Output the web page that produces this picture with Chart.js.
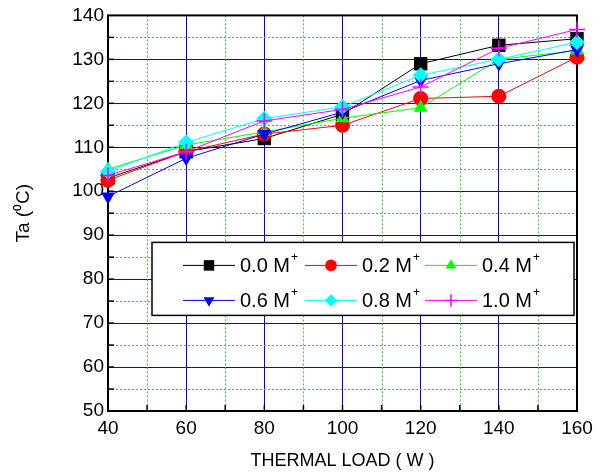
<!DOCTYPE html>
<html>
<head>
<meta charset="utf-8">
<script src="https://cdn.jsdelivr.net/npm/chart.js@4"></script>
<style>
  html, body { margin: 0; padding: 0; background: #fff; }
  #wrap { width: 605px; height: 476px; }
</style>
</head>
<body>
<div id="wrap"><canvas id="chart" width="605" height="476"></canvas></div>
<script>
const loads = [40, 60, 80, 100, 120, 140, 160];
const s00 = [103, 109, 112, 117.5, 129, 133.2, 134.7];
const s02 = [102.5, 109, 113, 115, 121.1, 121.6, 130.5];
const s04 = [105, 110.5, 113.5, 116.6, 119, 130, 132];
const s06 = [98.8, 107.5, 113, 118, 125.2, 129, 132.2];
const s08 = [104.5, 111.1, 116.5, 119.2, 126.4, 130, 133.9];
const s10 = [103.6, 109, 116, 118.6, 123.7, 132.5, 136.8];

const seriesNames = ['0.0 M', '0.2 M', '0.4 M', '0.6 M', '0.8 M', '1.0 M'];
const xMinorTicks = [50, 70, 90, 110, 130, 150];
const yMinorTicks = [55, 65, 75, 85, 95, 105, 115, 125, 135];
const xAllTicks = [50, 60, 70, 80, 90, 100, 110, 120, 130, 140, 150];
const yAllTicks = [55, 60, 65, 70, 75, 80, 85, 90, 95, 100, 105, 110, 115, 120, 125, 130, 135];

const FONT = '"Liberation Sans", Arial, sans-serif';

const styles = [
  { color: '#000000', point: 'rect', radius: 9.5, rotation: 0 },
  { color: '#ff0000', point: 'circle', radius: 7.5, rotation: 0 },
  { color: '#00ff00', point: 'triangle', radius: 8, rotation: 0 },
  { color: '#0000ff', point: 'triangle', radius: 8, rotation: 180 },
  { color: '#00ffff', point: 'rectRot', radius: 8, rotation: 0 },
  { color: '#ff00ff', point: 'cross', radius: 8, rotation: 0 }
];

const allSeries = [s00, s02, s04, s06, s08, s10];

const datasets = allSeries.map((vals, i) => ({
  label: seriesNames[i],
  data: loads.map((x, j) => ({ x: x, y: vals[j] })),
  borderColor: styles[i].color,
  backgroundColor: styles[i].color,
  borderWidth: 1,
  pointStyle: styles[i].point,
  pointRadius: styles[i].radius,
  pointRotation: styles[i].rotation,
  pointBorderWidth: styles[i].point === 'cross' ? 1.5 : 0,
  pointBorderColor: styles[i].color,
  tension: 0,
  clip: false,
  order: allSeries.length - i
}));

const extrasPlugin = {
  id: 'extras',
  beforeDatasetsDraw(chart) {
    const { ctx, chartArea: a, scales: { x, y } } = chart;
    ctx.save();
    ctx.strokeStyle = '#22dd22';
    ctx.lineWidth = 1;
    ctx.setLineDash([2, 2]);
    xMinorTicks.forEach(v => {
      const px = Math.round(x.getPixelForValue(v)) + 0.5;
      ctx.beginPath(); ctx.moveTo(px, a.top); ctx.lineTo(px, a.bottom); ctx.stroke();
    });
    yMinorTicks.forEach(v => {
      const py = Math.round(y.getPixelForValue(v)) + 0.5;
      ctx.beginPath(); ctx.moveTo(a.left, py); ctx.lineTo(a.right, py); ctx.stroke();
    });
    ctx.setLineDash([]);
    // inward ticks
    ctx.strokeStyle = '#000';
    ctx.lineWidth = 1.5;
    xAllTicks.forEach(v => {
      const px = x.getPixelForValue(v);
      ctx.beginPath(); ctx.moveTo(px, a.bottom); ctx.lineTo(px, a.bottom - 6); ctx.stroke();
    });
    yAllTicks.forEach(v => {
      const py = y.getPixelForValue(v);
      ctx.beginPath(); ctx.moveTo(a.left, py); ctx.lineTo(a.left + 6, py); ctx.stroke();
    });
    // frame
    ctx.lineWidth = 2;
    ctx.strokeRect(a.left, a.top, a.right - a.left, a.bottom - a.top);
    ctx.restore();
  },
  afterDatasetsDraw(chart) {
    const { ctx, chartArea: a } = chart;
    const bx = a.left + 44, by = a.top + 227, bw = 422, bh = 73;
    ctx.save();
    ctx.fillStyle = '#fff';
    ctx.fillRect(bx, by, bw, bh);
    ctx.strokeStyle = '#000';
    ctx.lineWidth = 1.5;
    ctx.strokeRect(bx, by, bw, bh);
    const colX = [bx + 31, bx + 153, bx + 273];
    const rowY = [by + 23, by + 58];
    chart.data.datasets.forEach((ds, i) => {
      const cx = colX[i % 3], cy = rowY[Math.floor(i / 3)];
      ctx.strokeStyle = ds.borderColor;
      ctx.lineWidth = 1;
      ctx.beginPath(); ctx.moveTo(cx, cy); ctx.lineTo(cx + 52, cy); ctx.stroke();
      ctx.fillStyle = ds.backgroundColor;
      ctx.strokeStyle = ds.borderColor;
      ctx.lineWidth = ds.pointBorderWidth || 0;
      Chart.helpers.drawPoint(ctx, {
        pointStyle: ds.pointStyle,
        rotation: ds.pointRotation,
        radius: ds.pointRadius * 0.78,
        borderWidth: ds.pointBorderWidth
      }, cx + 26, cy);
      ctx.fillStyle = '#000';
      ctx.font = '20px ' + FONT;
      ctx.textBaseline = 'middle';
      ctx.textAlign = 'left';
      ctx.fillText(ds.label, cx + 57, cy + 1);
      const w = ctx.measureText(ds.label).width;
      ctx.font = '12px ' + FONT;
      ctx.fillText('+', cx + 57 + w + 1, cy - 8);
    });
    ctx.restore();
  }
};

new Chart(document.getElementById('chart'), {
  type: 'line',
  data: { datasets: datasets },
  plugins: [extrasPlugin],
  options: {
    responsive: false,
    animation: false,
    layout: { padding: { top: 15, right: 28, left: 0, bottom: 0 } },
    plugins: { legend: { display: false }, tooltip: { enabled: false } },
    scales: {
      x: {
        type: 'linear',
        min: 40,
        max: 160,
        afterFit: s => { s.height = 65; },
        ticks: { stepSize: 20, color: '#000', font: { size: 19, family: FONT }, padding: 6, maxRotation: 0 },
        grid: { color: '#0000ff', lineWidth: 1, drawTicks: false },
        border: { display: false },
        title: { display: true, text: 'THERMAL LOAD ( W )', color: '#000', font: { size: 18, family: FONT }, padding: { top: 0, bottom: 4 } }
      },
      y: {
        min: 50,
        max: 140,
        afterFit: s => { s.width = 108; },
        ticks: { stepSize: 10, color: '#000', font: { size: 19, family: FONT }, padding: 4 },
        grid: { color: '#0000ff', lineWidth: 1, drawTicks: false },
        border: { display: false },
        title: { display: true, text: 'Ta (\u2070C)', color: '#000', font: { size: 19, family: FONT }, padding: { top: 12, bottom: 0 } }
      }
    }
  }
});
</script>
</body>
</html>
